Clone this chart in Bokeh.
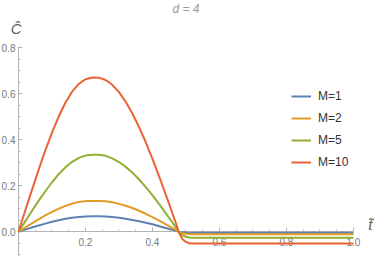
from bokeh.plotting import figure
from bokeh.models import FixedTicker, PrintfTickFormatter, Label, Legend, LegendItem, Range1d
from bokeh.embed import file_html
from bokeh.resources import INLINE

# ---- data ----
t = [0, 0.02, 0.04, 0.06, 0.08, 0.10, 0.12, 0.14, 0.16, 0.18, 0.20, 0.22, 0.24, 0.26,
     0.28, 0.30, 0.32, 0.34, 0.36, 0.38, 0.40, 0.42, 0.44, 0.46, 0.47, 0.48, 0.49, 0.50,
     0.51, 0.52, 0.54, 1.00]
c_m1 = [0, 0.009, 0.018, 0.027, 0.035, 0.043, 0.050, 0.056, 0.061, 0.064, 0.066, 0.067,
        0.067, 0.066, 0.064, 0.061, 0.056, 0.051, 0.045, 0.039, 0.032, 0.024, 0.016, 0.008,
        0.004, -0.001, -0.003, -0.004, -0.005, -0.005, -0.005, -0.005]
c_m2 = [0, 0.018, 0.036, 0.054, 0.071, 0.086, 0.100, 0.112, 0.122, 0.129, 0.133, 0.134,
        0.134, 0.132, 0.128, 0.121, 0.113, 0.103, 0.091, 0.078, 0.063, 0.048, 0.032, 0.016,
        0.007, -0.002, -0.007, -0.009, -0.010, -0.011, -0.011, -0.011]
c_m5 = [0, 0.045, 0.090, 0.134, 0.176, 0.215, 0.250, 0.280, 0.304, 0.321, 0.331, 0.335,
        0.335, 0.330, 0.319, 0.303, 0.282, 0.257, 0.227, 0.194, 0.158, 0.120, 0.080, 0.039,
        0.018, -0.004, -0.016, -0.022, -0.025, -0.026, -0.026, -0.026]
c_m10 = [0, 0.091, 0.181, 0.269, 0.353, 0.431, 0.501, 0.561, 0.609, 0.643, 0.663, 0.671,
         0.670, 0.660, 0.639, 0.607, 0.565, 0.514, 0.455, 0.389, 0.317, 0.240, 0.160, 0.078,
         0.036, -0.008, -0.033, -0.045, -0.050, -0.051, -0.051, -0.051]
series_labels = ["M=1", "M=2", "M=5", "M=10"]
series_colors = ["#5E81B5", "#E19C24", "#8FB032", "#EB6235"]
x_ticks = [0.2, 0.4, 0.6, 0.8, 1.0]
x_minor = [0.05, 0.1, 0.15, 0.25, 0.3, 0.35, 0.45, 0.5, 0.55, 0.65, 0.7, 0.75, 0.85, 0.9, 0.95]
y_ticks = [0.0, 0.2, 0.4, 0.6, 0.8]
y_minor = [-0.1, -0.05, 0.05, 0.1, 0.15, 0.25, 0.3, 0.35, 0.45, 0.5, 0.55, 0.65, 0.7, 0.75]

FONT = "Liberation Sans"
AX = "#b5b5b5"
LBL = "#7a7a7a"

# frame covers the whole canvas; axes cross at the origin
p = figure(width=374, height=256, output_backend="svg", toolbar_location=None,
           x_range=Range1d(-0.0537, 1.0627), y_range=Range1d(-0.1079, 1.0057),
           min_border_left=0, min_border_right=0, min_border_top=0, min_border_bottom=0)
p.outline_line_color = None
p.grid.visible = False
p.background_fill_color = "white"

for ax, ticks, minor, bnds in [(p.xaxis[0], x_ticks, x_minor, (0, 1.0)),
                               (p.yaxis[0], y_ticks, y_minor, (-0.108, 0.805))]:
    ax.fixed_location = 0
    ax.bounds = bnds
    ax.ticker = FixedTicker(ticks=ticks, minor_ticks=minor)
    ax.formatter = PrintfTickFormatter(format="%.1f")
    ax.axis_line_color = AX
    ax.major_tick_line_color = AX
    ax.minor_tick_line_color = AX
    ax.major_tick_in = 4
    ax.major_tick_out = 0
    ax.minor_tick_in = 2
    ax.minor_tick_out = 0
    ax.major_label_text_color = LBL
    ax.major_label_text_font = FONT
    ax.major_label_text_font_size = "10px"
    ax.level = "underlay"
p.xaxis[0].major_label_standoff = 6
p.yaxis[0].major_label_standoff = 3

items = []
for ys, lab, col in zip([c_m1, c_m2, c_m5, c_m10], series_labels, series_colors):
    r = p.line(t, ys, line_color=col, line_width=2)
    items.append(LegendItem(label=lab, renderers=[r]))

legend = Legend(items=items, location=(291, 84), border_line_color=None,
                background_fill_alpha=0, padding=0, margin=0, spacing=2,
                glyph_width=20, glyph_height=20, label_height=20, label_standoff=7,
                label_text_font=FONT, label_text_font_size="12px", label_text_color="#333333")
p.add_layout(legend)

p.add_layout(Label(x=0.5, y=0.969, text="d = 4", text_align="center", text_baseline="middle",
                   text_font=FONT, text_font_style="italic", text_font_size="12px",
                   text_color="#9a9a9a"))
p.add_layout(Label(x=-0.007, y=0.884, text="Ĉ", text_align="center", text_baseline="middle",
                   text_font=FONT, text_font_style="italic", text_font_size="15px",
                   text_color="#606060"))
p.add_layout(Label(x=1.05, y=0.03, text="t̃", text_align="center", text_baseline="middle",
                   text_font=FONT, text_font_style="italic", text_font_size="15px",
                   text_color="#606060"))

open("out.html", "w").write(file_html(p, INLINE))
